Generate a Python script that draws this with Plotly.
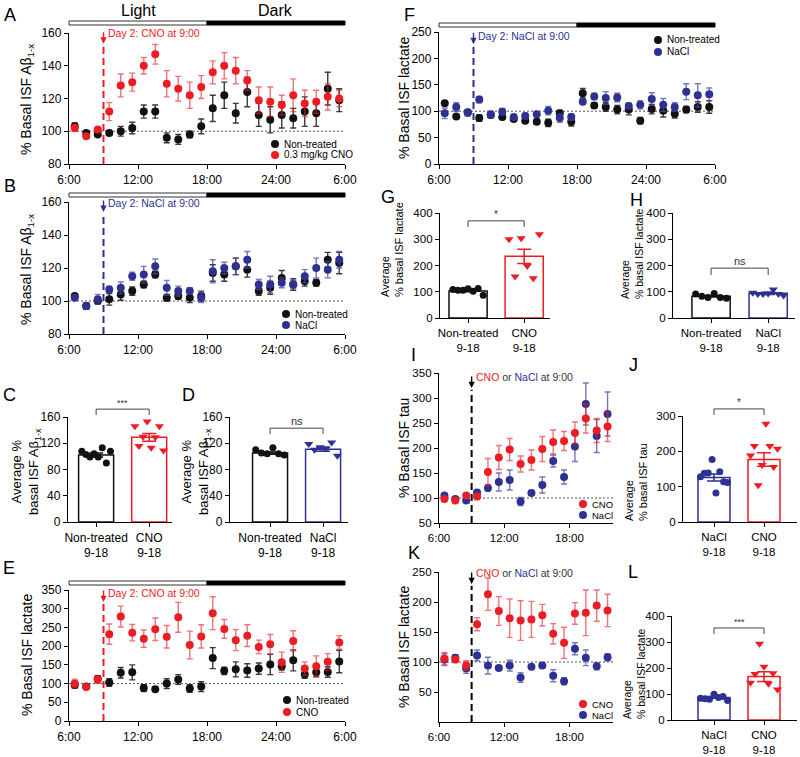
import plotly.graph_objects as go
import numpy as np

# ======================= DATA =======================
hours_day = [6.5, 7.5, 8.5, 9.5, 10.5, 11.5, 12.5, 13.5, 14.5, 15.5, 16.5, 17.5,
             18.5, 19.5, 20.5, 21.5, 22.5, 23.5, 24.5, 25.5, 26.5, 27.5, 28.5, 29.5]
hours_short = [6.5, 7.5, 8.5, 9.5, 10.5, 11.5, 12.5, 13.5, 14.5, 15.5, 16.5, 17.5,
               18.5, 19.5, 20.5, 21.5]
day_tickvals = [6, 12, 18, 24, 30]
day_ticktext = ["6:00", "12:00", "18:00", "24:00", "6:00"]
short_tickvals = [6, 12, 18]
short_ticktext = ["6:00", "12:00", "18:00"]
injection_hour = 9
light_start, light_end, dark_end = 6, 18, 30

# A: Abeta, non-treated vs CNO
A_nt = [103, 99, 98, 99, 100, 102, 112, 112, 96, 95, 98, 103, 114, 122, 111, 124, 110, 107, 110, 108, 112, 111, 126, 119]
A_nt_sem = [2, 1, 1, 1.5, 3, 3.5, 4, 4, 3, 3, 2, 4.5, 8, 8, 6, 9, 7, 8, 8, 6, 9, 8, 10, 7]
A_cno = [102, 97, 101, 112, 128, 130, 140, 147, 129, 126, 122, 127, 136, 140, 137, 131, 119, 118, 116, 122, 117, 118, 121, 120]
A_cno_sem = [2, 1, 1, 5.5, 7, 5.5, 5, 6, 8, 7.5, 8, 7, 7, 8, 8, 6, 8, 9, 6, 10, 8, 7, 8, 5]

# B: Abeta, non-treated vs NaCl
B_nt = [103, 97, 100, 101, 104, 106, 110, 116, 102, 103, 102, 103, 117, 116, 121, 119, 106, 108, 114, 110, 112, 111, 125, 123]
B_nt_sem = [1, 2, 1.5, 3.5, 3.5, 2.5, 2, 2, 2, 2, 3, 3, 5, 4, 5, 4.5, 2.5, 4, 4.5, 3.5, 3, 2, 4.5, 6.5]
B_nacl = [102, 97, 101, 107, 108, 115, 116, 121, 108, 106, 106, 102, 118, 120, 121, 125, 110, 110, 111, 110, 115, 120, 119, 125]
B_nacl_sem = [1, 2, 3, 2, 3.5, 2.5, 5, 4.5, 4.5, 3, 2, 3, 7, 3.5, 5, 5, 3, 5, 3, 2.5, 4, 6, 5, 5]

# C: average Abeta 9-18
C_labels = ["Non-treated<br>9-18", "CNO<br>9-18"]
C_mean = [102, 129]
C_sem = [3, 6]
C_nt_pts = [108, 103, 99, 104, 99, 113, 90, 108]
C_cno_pts = [146, 116, 130, 153, 113, 129, 146, 109]

# D
D_labels = ["Non-treated<br>9-18", "NaCl<br>9-18"]
D_mean = [105, 111]
D_sem = [1.7, 3]
D_nt_pts = [110, 105, 104, 113, 104, 102]
D_nacl_pts = [119, 110, 114, 112, 121, 101]

# E: lactate, non-treated vs CNO
E_nt = [96, 92, 113, 103, 129, 130, 88, 85, 100, 111, 87, 92, 168, 134, 138, 135, 140, 151, 146, 162, 124, 130, 131, 159]
E_nt_sem = [8, 4, 8, 10, 14, 20, 9, 5, 13, 13, 10, 13, 28, 10, 20, 18, 15, 27, 10, 28, 10, 12, 14, 30]
E_cno = [100, 91, 111, 232, 279, 236, 220, 245, 225, 277, 203, 226, 288, 246, 216, 228, 198, 205, 157, 214, 140, 146, 158, 210]
E_cno_sem = [12, 3, 10, 27, 28, 22, 23, 30, 30, 40, 37, 31, 44, 25, 28, 29, 18, 26, 27, 27, 18, 28, 22, 18]

# F: lactate, non-treated vs NaCl
F_nt = [115, 90, 98, 87, 93, 89, 85, 82, 80, 78, 96, 80, 134, 111, 108, 103, 103, 82, 104, 101, 95, 103, 108, 108]
F_nt_sem = [4, 3, 5, 6, 5, 5, 4, 4, 5, 7, 6, 8, 9, 5, 8, 8, 10, 6, 9, 12, 8, 6, 10, 12]
F_nacl = [96, 108, 97, 122, 94, 99, 89, 91, 94, 101, 87, 89, 118, 128, 125, 126, 110, 112, 123, 112, 108, 137, 130, 132]
F_nacl_sem = [10, 8, 6, 6, 5, 6, 4, 5, 4, 8, 8, 6, 4, 6, 12, 8, 5, 8, 12, 12, 8, 15, 22, 12]

# G
G_labels = ["Non-treated<br>9-18", "CNO<br>9-18"]
G_mean = [103, 235]
G_sem = [3, 27]
G_nt_pts = [109, 106, 106, 111, 102, 112, 87]
G_cno_pts = [300, 158, 304, 198, 151, 319]

# H
H_labels = ["Non-treated<br>9-18", "NaCl<br>9-18"]
H_mean = [83, 94]
H_sem = [3, 4]
H_nt_pts = [91, 83, 78, 93, 78, 75]
H_nacl_pts = [96, 91, 91, 93, 109, 91, 86]

# I: tau, CNO vs NaCl
I_cno = [98, 95, 105, 103, 152, 181, 197, 168, 176, 198, 212, 214, 230, 259, 235, 243]
I_cno_sem = [3, 4, 2, 6, 27, 24, 22, 16, 20, 25, 24, 19, 22, 29, 24, 30]
I_nacl = [105, 98, 95, 111, 120, 132, 136, 93, 110, 126, 174, 142, 203, 288, 224, 268]
I_nacl_sem = [3, 3, 2, 4, 6, 18, 20, 8, 4, 16, 12, 14, 30, 42, 33, 44]

# J
J_labels = ["NaCl<br>9-18", "CNO<br>9-18"]
J_mean = [126, 177]
J_sem = [10, 19]
J_nacl_pts = [128, 138, 139, 177, 82, 142, 114, 112]
J_cno_pts = [188, 215, 104, 161, 278, 215, 156, 207]

# K: lactate, CNO vs NaCl
K_cno = [106, 104, 94, 163, 213, 185, 173, 169, 171, 178, 147, 132, 181, 182, 194, 186]
K_cno_sem = [10, 5, 8, 11, 27, 24, 32, 33, 30, 18, 17, 26, 18, 38, 26, 27]
K_nacl = [104, 107, 89, 111, 94, 90, 94, 74, 92, 94, 77, 68, 122, 107, 93, 108]
K_nacl_sem = [10, 5, 8, 9, 14, 4, 9, 8, 2, 4, 10, 6, 10, 13, 6, 6]

# L
L_labels = ["NaCl<br>9-18", "CNO<br>9-18"]
L_mean = [87, 167]
L_sem = [3, 19]
L_nacl_pts = [84, 82, 80, 99, 87, 90, 75]
L_cno_pts = [143, 177, 293, 205, 139, 180, 117]

# ======================= STYLE =======================
FW, FH = 800, 757
FONT = "Liberation Sans, Arial, sans-serif"
NARROW = "Liberation Sans Narrow, Arial Narrow, Liberation Sans, sans-serif"
RED = "#EC1C24"
RED_ERR = "rgba(236,28,36,0.62)"
BLUE = "#2E3192"
BLUE_ERR = "rgba(70,74,170,0.75)"
BLACK = "#111111"
BLACK_ERR = "#3a3a3a"


def fx(px):
    return min(max(px / FW, 0), 1)


def fy(py):
    return min(max(1 - py / FH, 0), 1)


def px_x(l, r):
    return [fx(l), fx(r)]


def px_y(t, b):
    return [fy(b), fy(t)]


def xa(i):
    return "x" if i == 1 else f"x{i}"


def ya(i):
    return "y" if i == 1 else f"y{i}"


fig = go.Figure()
shapes = []
annots = []

panels = {
    1: dict(x=(69, 345), y=(33, 164), xr=[6, 30], yr=[80, 160], yt=[80, 100, 120, 140, 160], xt=(day_tickvals, day_ticktext), fs=12),
    2: dict(x=(69, 345), y=(202, 334), xr=[6, 30], yr=[80, 160], yt=[80, 100, 120, 140, 160], xt=(day_tickvals, day_ticktext), fs=12),
    3: dict(x=(68, 172), y=(417, 522), xr=[-0.53, 1.43], yr=[0, 160], yt=[0, 40, 80, 120, 160], xt=([0, 1], C_labels), fs=12),
    4: dict(x=(230, 348), y=(417, 522), xr=[-0.755, 1.47], yr=[0, 160], yt=[0, 40, 80, 120, 160], xt=([0, 1], D_labels), fs=12),
    5: dict(x=(69, 345), y=(590, 721), xr=[6, 30], yr=[0, 350], yt=[0, 50, 100, 150, 200, 250, 300, 350], xt=(day_tickvals, day_ticktext), fs=12),
    6: dict(x=(439, 715), y=(32, 164), xr=[6, 30], yr=[0, 250], yt=[0, 50, 100, 150, 200, 250], xt=(day_tickvals, day_ticktext), fs=12),
    7: dict(x=(440, 550), y=(213, 318), xr=[-0.5, 1.46], yr=[0, 400], yt=[0, 100, 200, 300, 400], xt=([0, 1], G_labels), fs=11.5),
    8: dict(x=(673, 795), y=(213, 318), xr=[-0.667, 1.47], yr=[0, 400], yt=[0, 100, 200, 300, 400], xt=([0, 1], H_labels), fs=11.5),
    9: dict(x=(439, 613), y=(373, 523), xr=[6, 22], yr=[50, 350], yt=[50, 100, 150, 200, 250, 300, 350], xt=(short_tickvals, short_ticktext), fs=11.5),
    10: dict(x=(683, 797), y=(416, 522), xr=[-0.62, 1.66], yr=[0, 300], yt=[0, 100, 200, 300], xt=([0, 1], J_labels), fs=11.5),
    11: dict(x=(439, 613), y=(572, 722), xr=[6, 22], yr=[0, 250], yt=[50, 100, 150, 200, 250], xt=(short_tickvals, short_ticktext), fs=11.5),
    12: dict(x=(672, 797), y=(616, 720), xr=[-0.84, 1.66], yr=[0, 400], yt=[0, 100, 200, 300, 400], xt=([0, 1], L_labels), fs=11.5),
}

axstyle = dict(showline=True, linecolor="black", linewidth=1.3, ticks="outside", ticklen=4,
               tickwidth=1.3, tickcolor="black", showgrid=False, zeroline=False,
               automargin=False, fixedrange=True)

layout_axes = {}
for i, p in panels.items():
    xk = "xaxis" if i == 1 else f"xaxis{i}"
    yk = "yaxis" if i == 1 else f"yaxis{i}"
    tf = dict(family=FONT, size=p["fs"], color="black")
    layout_axes[xk] = dict(domain=px_x(*p["x"]), range=p["xr"], anchor=ya(i), tickfont=tf,
                           tickmode="array", tickvals=p["xt"][0], ticktext=p["xt"][1], **axstyle)
    layout_axes[yk] = dict(domain=px_y(*p["y"]), range=p["yr"], anchor=xa(i), tickfont=tf,
                           tickmode="array", tickvals=p["yt"], **axstyle)


def add_ts(i, x, y, e, color, ecolor):
    fig.add_trace(go.Scatter(x=x, y=y, mode="markers",
                             marker=dict(color=color, size=8, line=dict(width=0)),
                             error_y=dict(type="data", array=e, visible=True, color=ecolor,
                                          thickness=1.4, width=3),
                             xaxis=xa(i), yaxis=ya(i), showlegend=False, hoverinfo="skip"))


def add_bar(i, pos, mean, sem, color, width):
    fig.add_trace(go.Bar(x=[pos], y=[mean], width=width,
                         marker=dict(color="white", line=dict(color=color, width=1.5)),
                         error_y=dict(type="data", array=[sem], visible=True, color=color,
                                      thickness=1.5, width=7),
                         xaxis=xa(i), yaxis=ya(i), showlegend=False, hoverinfo="skip"))


def add_pts(i, pos, pts, color, symbol, size, spread):
    offs = np.linspace(-spread, spread, len(pts))
    fig.add_trace(go.Scatter(x=[pos + o for o in offs], y=pts, mode="markers",
                             marker=dict(color=color, symbol=symbol, size=size, line=dict(width=0)),
                             xaxis=xa(i), yaxis=ya(i), showlegend=False, hoverinfo="skip"))


def hline100(i):
    p = panels[i]
    shapes.append(dict(type="line", xref=xa(i), yref=ya(i), x0=p["xr"][0], x1=p["xr"][1], y0=100, y1=100,
                       line=dict(color="#555", width=1, dash="2px,2px"), layer="below"))


def injection(i, color, y_text, y_tip, text, tcolor):
    p = panels[i]
    shapes.append(dict(type="line", xref=xa(i), yref=ya(i), x0=injection_hour, x1=injection_hour,
                       y0=p["yr"][0], y1=y_tip - (p["yr"][1] - p["yr"][0]) * 0.012,
                       line=dict(color=color, width=2, dash="7px,4px")))
    annots.append(dict(xref=xa(i), yref=ya(i), x=injection_hour, y=y_tip, text="", showarrow=True,
                       ax=0, ay=-13, arrowhead=2, arrowsize=0.9, arrowwidth=1.4, arrowcolor=color))
    annots.append(dict(xref=xa(i), yref=ya(i), x=injection_hour, y=y_text, text=text, showarrow=False,
                       xanchor="left", yanchor="middle", xshift=2,
                       font=dict(family=NARROW, size=10.5, color=tcolor)))


def lightdark(i, top_px):
    frac = (light_end - light_start) / (dark_end - light_start)
    y0, y1 = fy(top_px + 4), fy(top_px)
    xr = f"{xa(i)} domain"
    shapes.append(dict(type="rect", xref=xr, yref="paper", x0=0, x1=frac, y0=y0, y1=y1,
                       fillcolor="white", line=dict(color="#333", width=1)))
    shapes.append(dict(type="rect", xref=xr, yref="paper", x0=frac, x1=1, y0=y0, y1=y1,
                       fillcolor="black", line=dict(color="black", width=1)))


def legend_items(cx, cy_list, labels, colors, size=10):
    for cy, lab, col in zip(cy_list, labels, colors):
        shapes.append(dict(type="circle", xref="paper", yref="paper",
                           x0=fx(cx - 4), x1=fx(cx + 4), y0=fy(cy + 4), y1=fy(cy - 4),
                           fillcolor=col, line=dict(width=0)))
        annots.append(dict(xref="paper", yref="paper", x=fx(cx + 7), y=fy(cy), text=lab,
                           showarrow=False, xanchor="left", yanchor="middle",
                           font=dict(family=FONT, size=size, color="black")))


def bracket(i, yv, legv, text, tsize):
    p = panels[i]
    xr0, xr1 = p["xr"]
    yr0, yr1 = p["yr"]
    fx0 = (0 - xr0) / (xr1 - xr0)
    fx1 = (1 - xr0) / (xr1 - xr0)
    fyv = (yv - yr0) / (yr1 - yr0)
    fl = (legv - yr0) / (yr1 - yr0)
    xref, yref = f"{xa(i)} domain", f"{ya(i)} domain"
    ln = dict(color="#444", width=1)
    shapes.append(dict(type="line", xref=xref, yref=yref, x0=fx0, x1=fx1, y0=fyv, y1=fyv, line=ln))
    shapes.append(dict(type="line", xref=xref, yref=yref, x0=fx0, x1=fx0, y0=fyv, y1=fl, line=ln))
    shapes.append(dict(type="line", xref=xref, yref=yref, x0=fx1, x1=fx1, y0=fyv, y1=fl, line=ln))
    annots.append(dict(xref=xref, yref=yref, x=(fx0 + fx1) / 2, y=fyv, text=text, showarrow=False,
                       xanchor="center", yanchor="bottom", yshift=-1,
                       font=dict(family=FONT, size=tsize, color="#333")))


def ptext(px, py, text, size=18, angle=0, color="black", align="center"):
    annots.append(dict(xref="paper", yref="paper", x=fx(px), y=fy(py), text=text, showarrow=False,
                       xanchor="center", yanchor="middle", textangle=angle, align=align,
                       font=dict(family=FONT, size=size, color=color)))


# ---------- A ----------
hline100(1)
add_ts(1, hours_day, A_nt, A_nt_sem, BLACK, BLACK_ERR)
add_ts(1, hours_day, A_cno, A_cno_sem, RED, RED_ERR)
injection(1, RED, 160, 153.5, "Day 2: CNO at 9:00", RED)
lightdark(1, 21)
legend_items(275, [144, 155], ["Non-treated", "0.3 mg/kg CNO"], [BLACK, RED])

# ---------- B ----------
hline100(2)
add_ts(2, hours_day, B_nt, B_nt_sem, BLACK, BLACK_ERR)
add_ts(2, hours_day, B_nacl, B_nacl_sem, BLUE, BLUE_ERR)
injection(2, BLUE, 159.3, 154, "Day 2: NaCl at 9:00", BLUE)
lightdark(2, 193)
legend_items(286, [314, 325], ["Non-treated", "NaCl"], [BLACK, BLUE])

# ---------- C ----------
add_bar(3, 0, C_mean[0], C_sem[0], BLACK, 0.66)
add_bar(3, 1, C_mean[1], C_sem[1], RED, 0.66)
add_pts(3, 0, C_nt_pts, BLACK, "circle", 7, 0.27)
add_pts(3, 1, C_cno_pts, RED, "triangle-down", 8, 0.27)
bracket(3, 172, 163, "***", 9)

# ---------- D ----------
add_bar(4, 0, D_mean[0], D_sem[0], BLACK, 0.66)
add_bar(4, 1, D_mean[1], D_sem[1], BLUE, 0.66)
add_pts(4, 0, D_nt_pts, BLACK, "circle", 7, 0.27)
add_pts(4, 1, D_nacl_pts, BLUE, "triangle-down", 8, 0.27)
bracket(4, 143, 134, "ns", 11)

# ---------- E ----------
hline100(5)
add_ts(5, hours_day, E_nt, E_nt_sem, BLACK, BLACK_ERR)
add_ts(5, hours_day, E_cno, E_cno_sem, RED, RED_ERR)
injection(5, RED, 342, 318, "Day 2: CNO at 9:00", RED)
lightdark(5, 581)
legend_items(287, [700, 712], ["Non-treated", "CNO"], [BLACK, RED])

# ---------- F ----------
hline100(6)
add_ts(6, hours_day, F_nt, F_nt_sem, BLACK, BLACK_ERR)
add_ts(6, hours_day, F_nacl, F_nacl_sem, BLUE, BLUE_ERR)
injection(6, BLUE, 242, 227, "Day 2: NaCl at 9:00", BLUE)
lightdark(6, 23)
legend_items(658, [40, 52], ["Non-treated", "NaCl"], [BLACK, BLUE])

# ---------- G ----------
add_bar(7, 0, G_mean[0], G_sem[0], BLACK, 0.68)
add_bar(7, 1, G_mean[1], G_sem[1], RED, 0.68)
add_pts(7, 0, G_nt_pts, BLACK, "circle", 7, 0.27)
add_pts(7, 1, G_cno_pts, RED, "triangle-down", 8, 0.27)
bracket(7, 370, 347, "*", 10)

# ---------- H ----------
add_bar(8, 0, H_mean[0], H_sem[0], BLACK, 0.67)
add_bar(8, 1, H_mean[1], H_sem[1], BLUE, 0.67)
add_pts(8, 0, H_nt_pts, BLACK, "circle", 7, 0.27)
add_pts(8, 1, H_nacl_pts, BLUE, "triangle-down", 8, 0.27)
bracket(8, 190, 164, "ns", 11)

# ---------- I ----------
hline100(9)
add_ts(9, hours_short, I_nacl, I_nacl_sem, BLUE, BLUE_ERR)
add_ts(9, hours_short, I_cno, I_cno_sem, RED, RED_ERR)
mixed = (f'<span style="color:{RED}">CNO</span> or '
         f'<span style="color:{BLUE}">NaCl</span> at 9:00')
injection(9, "black", 342, 320, mixed, "#333")
legend_items(583, [504, 515], ["CNO", "NaCl"], [RED, BLUE], size=9.5)

# ---------- J ----------
add_bar(10, 0, J_mean[0], J_sem[0], BLUE, 0.64)
add_bar(10, 1, J_mean[1], J_sem[1], RED, 0.64)
add_pts(10, 0, J_nacl_pts, BLUE, "circle", 7, 0.27)
add_pts(10, 1, J_cno_pts, RED, "triangle-down", 8, 0.27)
bracket(10, 320, 303, "*", 10)

# ---------- K ----------
hline100(11)
add_ts(11, hours_short, K_nacl, K_nacl_sem, BLUE, BLUE_ERR)
add_ts(11, hours_short, K_cno, K_cno_sem, RED, RED_ERR)
injection(11, "black", 248, 230, mixed, "#333")
legend_items(583, [704, 715], ["CNO", "NaCl"], [RED, BLUE], size=9.5)

# ---------- L ----------
add_bar(12, 0, L_mean[0], L_sem[0], BLUE, 0.64)
add_bar(12, 1, L_mean[1], L_sem[1], RED, 0.64)
add_pts(12, 0, L_nacl_pts, BLUE, "circle", 7, 0.27)
add_pts(12, 1, L_cno_pts, RED, "triangle-down", 8, 0.27)
bracket(12, 354, 331, "***", 9)

# ---------- labels ----------
for letter, px, py in [("A", 10, 15), ("B", 10, 186), ("C", 9, 395), ("D", 188, 395), ("E", 9, 568),
                       ("F", 410, 15), ("G", 388, 197), ("H", 636, 200), ("I", 413, 355),
                       ("J", 633, 365), ("K", 414, 553), ("L", 633, 572)]:
    ptext(px, py, letter, size=18)

ptext(138, 10, "Light", size=16)
ptext(275, 10, "Dark", size=16)

abeta = "% Basal ISF A\u03b2<sub>1-x</sub>"
ptext(27, 100, abeta, size=14, angle=-90)
ptext(27, 270, abeta, size=14, angle=-90)
ptext(26, 472, "Average %<br>basal ISF A\u03b2<sub>1-x</sub>", size=13, angle=-90)
ptext(196, 472, "Average %<br>basal ISF A\u03b2<sub>1-x</sub>", size=13, angle=-90)
ptext(27, 655, "% Basal ISF lactate", size=14, angle=-90)
ptext(404, 98, "% Basal ISF lactate", size=14, angle=-90)
ptext(392, 250, "Average<br>% basal ISF lactate", size=11, angle=-90, align="left")
ptext(632, 254, "Average<br>% basal ISF lactate", size=10.5, angle=-90, align="left")
ptext(636, 482, "Average<br>% basal ISF tau", size=11, angle=-90, align="left")
ptext(404, 448, "% Basal ISF tau", size=14, angle=-90)
ptext(404, 647, "% Basal ISF lactate", size=14, angle=-90)
ptext(634, 674, "Average<br>% basal ISF lactate", size=10.5, angle=-90, align="left")

fig.update_layout(width=FW, height=FH, margin=dict(l=0, r=0, t=0, b=0),
                  paper_bgcolor="white", plot_bgcolor="white", barmode="overlay",
                  showlegend=False, font=dict(family=FONT, size=12, color="black"),
                  shapes=shapes, annotations=annots, **layout_axes)

# the page's default 8px body margin would push the 800x757 figure off the window
fig.write_html("out.html", config={"displayModeBar": False},
               post_script="document.body.style.margin='0px';")
